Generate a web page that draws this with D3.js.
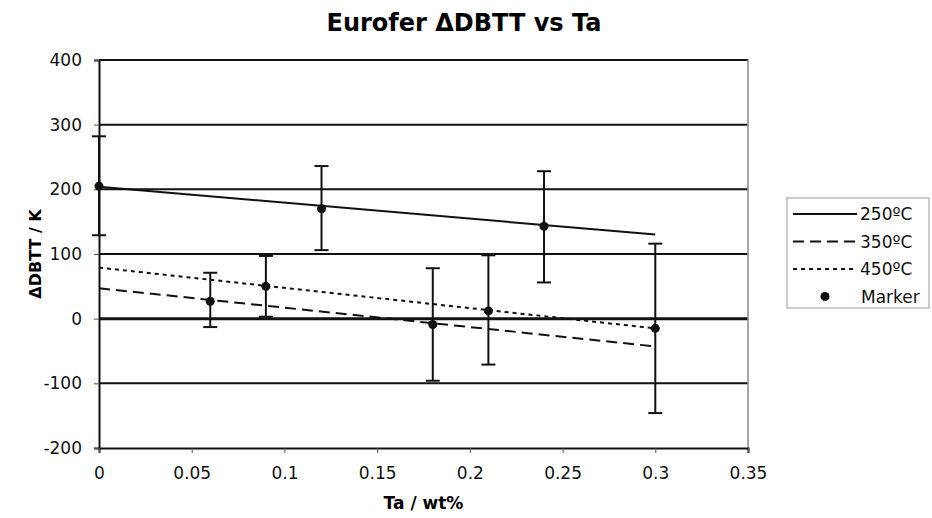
<!DOCTYPE html>
<html>
<head>
<meta charset="utf-8">
<script src="https://cdn.jsdelivr.net/npm/d3@7"></script>
<style>
  body { margin: 0; background: #fff; }
  text { font-family: 'DejaVu Sans', Verdana, sans-serif; }
</style>
</head>
<body>
<div id="chart"></div>
<script>
// measured points (Ta wt%, delta DBTT K, error bar low/high)
const taValues = [0, 0.06, 0.09, 0.12, 0.18, 0.21, 0.24, 0.3]
const dbttValues = [205, 27, 50, 170, -9, 12, 143, -15]
const errLow = [129, -13, 3, 106, -96, -71, 56, -146]
const errHigh = [282, 71, 97, 236, 78, 98, 228, 116]

// trend lines, endpoints
const trendNames = ['250ºC', '350ºC', '450ºC']
const trendStart = [204, 47, 79]
const trendEnd = [130, -43, -15]
const trendRange = [0, 0.3]

const yTicks = [-200, -100, 0, 100, 200, 300, 400]
const xTicks = [0, 0.05, 0.1, 0.15, 0.2, 0.25, 0.3, 0.35]

const margin = { top: 60, right: 184, bottom: 70, left: 99 }
const width = 932 - margin.left - margin.right
const height = 518 - margin.top - margin.bottom

const svg = d3
  .select('#chart')
  .append('svg')
  .attr('width', 932)
  .attr('height', 518)

const g = svg
  .append('g')
  .attr('transform', 'translate(' + margin.left + ',' + margin.top + ')')

const xPositionScale = d3.scaleLinear().domain([0, 0.35]).range([0, width])
const yPositionScale = d3.scaleLinear().domain([-200, 400]).range([height, 0])

const dashes = [null, '11,6', '4,4']

// gridlines
g.selectAll('.grid')
  .data(yTicks.filter(d => d > -200))
  .enter()
  .append('line')
  .attr('x1', 0)
  .attr('x2', width)
  .attr('y1', d => yPositionScale(d))
  .attr('y2', d => yPositionScale(d))
  .attr('stroke', '#111')
  .attr('stroke-width', d => (d === 0 ? 3 : 2))

// right border
g.append('line')
  .attr('x1', width)
  .attr('x2', width)
  .attr('y1', 0)
  .attr('y2', height)
  .attr('stroke', '#888')
  .attr('stroke-width', 1.5)

// axes
const yAxis = d3
  .axisLeft(yPositionScale)
  .tickValues(yTicks)
  .tickSize(5)
  .tickPadding(12)
  .tickFormat(d => String(d))

g.append('g')
  .attr('class', 'axis y-axis')
  .call(yAxis)

const xAxis = d3
  .axisBottom(xPositionScale)
  .tickValues(xTicks)
  .tickSize(5)
  .tickPadding(14)
  .tickFormat(d => String(d))

g.append('g')
  .attr('class', 'axis x-axis')
  .attr('transform', 'translate(0,' + height + ')')
  .call(xAxis)

g.selectAll('.axis .domain').attr('stroke', '#111').attr('stroke-width', 2)
g.selectAll('.axis .tick line').attr('stroke', '#555')
g.selectAll('.axis text').attr('font-size', 17).attr('fill', '#111')

// trend lines
trendNames.forEach((name, i) => {
  g.append('line')
    .attr('x1', xPositionScale(trendRange[0]))
    .attr('x2', xPositionScale(trendRange[1]))
    .attr('y1', yPositionScale(trendStart[i]))
    .attr('y2', yPositionScale(trendEnd[i]))
    .attr('stroke', '#111')
    .attr('stroke-width', 2)
    .attr('stroke-dasharray', dashes[i])
})

// error bars
const points = taValues.map((x, i) => ({
  x: x,
  y: dbttValues[i],
  lo: errLow[i],
  hi: errHigh[i]
}))

const bars = g.selectAll('.err').data(points).enter().append('g')

bars
  .append('line')
  .attr('x1', d => xPositionScale(d.x))
  .attr('x2', d => xPositionScale(d.x))
  .attr('y1', d => yPositionScale(d.lo))
  .attr('y2', d => yPositionScale(d.hi))
  .attr('stroke', '#111')
  .attr('stroke-width', 2)

bars
  .selectAll('.cap')
  .data(d => [
    { x: d.x, v: d.lo },
    { x: d.x, v: d.hi }
  ])
  .enter()
  .append('line')
  .attr('x1', d => xPositionScale(d.x) - 7)
  .attr('x2', d => xPositionScale(d.x) + 7)
  .attr('y1', d => yPositionScale(d.v))
  .attr('y2', d => yPositionScale(d.v))
  .attr('stroke', '#111')
  .attr('stroke-width', 2)

bars
  .append('circle')
  .attr('cx', d => xPositionScale(d.x))
  .attr('cy', d => yPositionScale(d.y))
  .attr('r', 4.5)
  .attr('fill', '#111')

// titles
svg
  .append('text')
  .attr('x', 464)
  .attr('y', 31)
  .attr('text-anchor', 'middle')
  .attr('font-size', 24)
  .attr('font-weight', 'bold')
  .text('Eurofer ΔDBTT vs Ta')

svg
  .append('text')
  .attr('x', margin.left + width / 2)
  .attr('y', 509)
  .attr('text-anchor', 'middle')
  .attr('font-size', 17)
  .attr('font-weight', 'bold')
  .text('Ta / wt%')

svg
  .append('text')
  .attr('transform', 'translate(41,' + (margin.top + height / 2) + ') rotate(-90)')
  .attr('text-anchor', 'middle')
  .attr('font-size', 16)
  .attr('font-weight', 'bold')
  .text('ΔDBTT / K')

// legend
const legend = svg.append('g').attr('transform', 'translate(787,198)')

legend
  .append('rect')
  .attr('x', 0)
  .attr('y', 0)
  .attr('width', 142)
  .attr('height', 110)
  .attr('fill', 'none')
  .attr('stroke', '#999')
  .attr('stroke-width', 1)

const legendItems = trendNames.concat(['Marker'])

legendItems.forEach((name, i) => {
  const ly = 16 + i * 27.5
  if (i < 3) {
    legend
      .append('line')
      .attr('x1', 6)
      .attr('x2', 70)
      .attr('y1', ly)
      .attr('y2', ly)
      .attr('stroke', '#111')
      .attr('stroke-width', 2)
      .attr('stroke-dasharray', dashes[i])
  } else {
    legend
      .append('circle')
      .attr('cx', 38)
      .attr('cy', ly)
      .attr('r', 4.5)
      .attr('fill', '#111')
  }
  legend
    .append('text')
    .attr('x', i < 3 ? 73 : 74)
    .attr('y', ly + 6)
    .attr('font-size', 17)
    .attr('fill', '#111')
    .text(name)
})
</script>
</body>
</html>
